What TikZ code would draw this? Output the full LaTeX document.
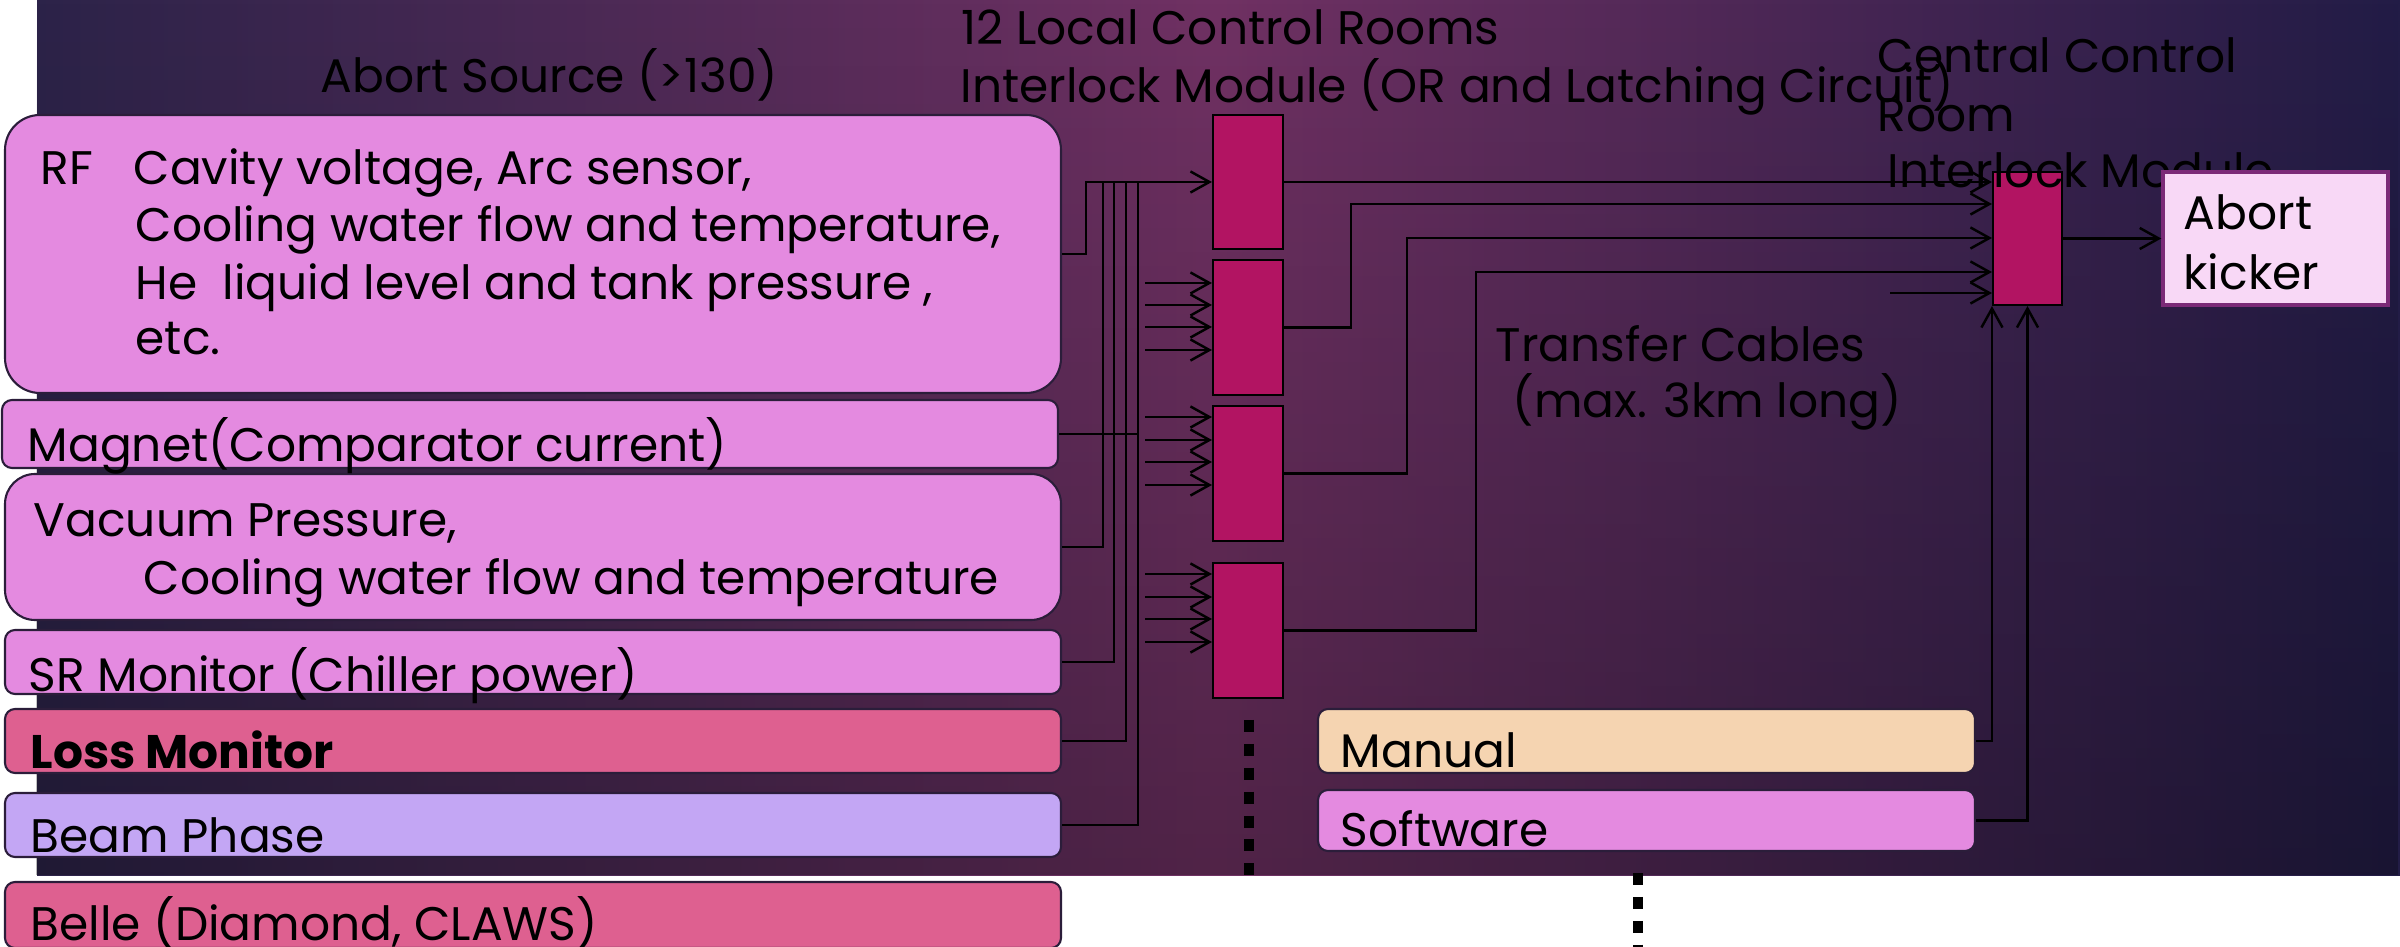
\documentclass[tikz,border=0pt]{standalone}
\usepackage{fontspec}
\setmainfont{Poppins}
\usetikzlibrary{arrows.meta,fadings}

\definecolor{bgdark}{HTML}{2C2349}
\definecolor{bgmid}{HTML}{703163}
\definecolor{bgright}{HTML}{221C46}
\definecolor{boxedge}{HTML}{2B1D3A}
\definecolor{srcpink}{HTML}{E48AE0}
\definecolor{losspink}{HTML}{DE6090}
\definecolor{beamlav}{HTML}{C3A6F4}
\definecolor{modred}{HTML}{B21462}
\definecolor{peach}{HTML}{F5D4B1}
\definecolor{kickfill}{HTML}{F8D8F6}
\definecolor{kickedge}{HTML}{7B2A77}

\tikzset{
  srcbox/.style={draw=boxedge, line width=0.6pt, inner sep=0pt, rounded corners=1mm,
    minimum width=105.6mm},
  module/.style={draw=black, line width=0.6pt, fill=modred, inner sep=0pt,
    minimum width=7mm},
  lbl/.style={anchor=base west, inner sep=0pt, font=\fontsize{13.4pt}{16pt}\selectfont},
  wire/.style={line width=0.7pt},
  sig/.style={wire, ->},
  dots/.style={line width=3.1pt, dash pattern=on 3.4pt off 3.4pt}
}

\begin{document}
\begin{tikzpicture}[x=0.1mm, y=-0.1mm, >={Straight Barb[length=5.4pt,width=6pt]}]
	\useasboundingbox (0,0) rectangle (2400,947);

	% background
	\shade[left color=bgdark, right color=bgright, middle color=bgmid] (37,0) rectangle (2400,875);
	\fill[black, opacity=0.28, path fading=north] (37,0) rectangle (2400,875);

	% abort sources
	\node[srcbox, fill=srcpink, rounded corners=3.5mm, minimum height=27.8mm] (rf) at (533,254) {};
	\node[srcbox, fill=srcpink, minimum height=6.8mm] (mag) at (530,434) {};
	\node[srcbox, fill=srcpink, rounded corners=3mm, minimum height=14.6mm] (vac) at (533,547) {};
	\node[srcbox, fill=srcpink, minimum height=6.4mm] (sr) at (533,662) {};
	\node[srcbox, fill=losspink, minimum height=6.4mm] (loss) at (533,741) {};
	\node[srcbox, fill=beamlav, minimum height=6.4mm] (beam) at (533,825) {};
	\node[srcbox, fill=losspink, minimum height=6.6mm] (belle) at (533,915) {};

	\node[lbl] (rftag) at (40,185) {RF};
	\node[lbl] (rf1) at (133,185) {Cavity voltage, Arc sensor,};
	\node[lbl] (rf2) at (135,242) {Cooling water flow and temperature,};
	\node[lbl] (rf3) at (135,300) {He\ \ liquid level and tank pressure ,};
	\node[lbl] (rf4) at (135,355) {etc.};
	\node[lbl] (magtxt) at (27,462) {Magnet(Comparator current)};
	\node[lbl] (vac1) at (33,537) {Vacuum Pressure,};
	\node[lbl] (vac2) at (143,595) {Cooling water flow and temperature};
	\node[lbl] (srtxt) at (28,692) {SR Monitor (Chiller power)};
	\node[lbl, font=\fontsize{13.4pt}{16pt}\selectfont\bfseries] (losstxt) at (30,769) {Loss Monitor};
	\node[lbl] (beamtxt) at (30,853) {Beam Phase};
	\node[lbl] (belletxt) at (30,940) {Belle (Diamond, CLAWS)};

	% titles
	\node[lbl] (srctitle) at (320,93) {Abort Source (>130)};
	\node[lbl] (loctitle1) at (961,45) {12 Local Control Rooms};
	\node[lbl] (loctitle2) at (960,103) {Interlock Module (OR and Latching Circuit)};
	\node[lbl] (cable1) at (1495,362) {Transfer Cables};
	\node[lbl] (cable2) at (1512,418) {(max. 3km long)};

	% local interlock modules
	\node[module, minimum height=13.4mm] (m1) at (1248,182) {};
	\node[module, minimum height=13.5mm] (m2) at (1248,327.5) {};
	\node[module, minimum height=13.5mm] (m3) at (1248,473.5) {};
	\node[module, minimum height=13.5mm] (m4) at (1248,630.5) {};

	% central control room
	\node[module, minimum width=6.9mm, minimum height=13.3mm] (cen) at (2027.5,238.5) {};
	\node[lbl] (centitle1) at (1877,73) {Central Control};
	\node[lbl] (centitle2) at (1877,132) {Room};
	\node[lbl] (centitle3) at (1887,188) {Interlock Module};
	\node[draw=kickedge, line width=1pt, fill=kickfill, minimum width=22.5mm, minimum height=13.3mm,
		inner sep=0pt] (kick) at (2275.5,238.5) {};
	\node[lbl] (kick1) at (2183,230) {Abort};
	\node[lbl] (kick2) at (2183,290) {kicker};

	\node[srcbox, fill=peach, minimum width=65.7mm, minimum height=6.4mm] (man) at (1646.5,741) {};
	\node[srcbox, fill=srcpink, minimum width=65.7mm, minimum height=6.1mm] (soft) at (1646.5,820.5) {};
	\node[lbl] (mantxt) at (1340,768) {Manual};
	\node[lbl] (softtxt) at (1340,846) {Software};

	% wiring to the local modules
	\draw[sig] (rf.east) -- ++(24,0) |- (m1.west);
	\foreach \s/\x in {vac/1103, sr/1114, loss/1126, beam/1138}
		\draw[wire] (\s.east) -| (\x,182);
	\draw[wire] (mag.east) -- (1138,434);
	\foreach \m/\y in {m2/283, m2/305, m2/327, m2/350, m3/417, m3/440, m3/462, m3/485,
		m4/574, m4/597, m4/619, m4/642}
		\draw[sig] (1145,\y) -- (\m.west |- 0,\y);

	% transfer cables
	\coordinate (spare) at (1890,293);
	\draw[sig] (m1.east) -- (m1.east -| cen.west);
	\draw[sig] (m2.east) -| (1351,204) -- (cen.west |- 0,204);
	\draw[sig] (m3.east) -| (1407,238) -- (cen.west |- 0,238);
	\draw[sig] (m4.east) -| (1476,272) -- (cen.west |- 0,272);
	\draw[sig] (spare) -- (cen.west |- spare);
	\draw[sig] (cen) -- (kick);
	\draw[sig] (man.east) -| (cen.south west);
	\draw[sig] (soft.east) -| (cen.south);

	% more rooms
	\draw[dots] (1249,720) -- (1249,877);
	\draw[dots] (1638,873) -- (1638,947);
\end{tikzpicture}
\end{document}
